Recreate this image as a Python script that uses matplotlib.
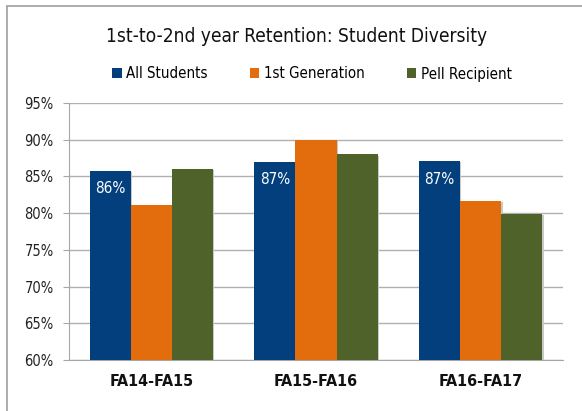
import matplotlib
matplotlib.use("Agg")
import matplotlib.pyplot as plt
import numpy as np
from matplotlib.patches import Rectangle
from matplotlib.ticker import FuncFormatter, MultipleLocator

categories = ["FA14-FA15", "FA15-FA16", "FA16-FA17"]
series_names = ["All Students", "1st Generation", "Pell Recipient"]
all_students = [85.75, 87.0, 87.1]
first_gen = [81.1, 90.0, 81.6]
pell = [86.0, 88.0, 79.9]
colors = ["#023f7c", "#e36c0d", "#4f6229"]
title = "1st-to-2nd year Retention: Student Diversity"

plt.rcParams["font.family"] = ["DejaVu Sans"]
plt.rcParams["font.stretch"] = "condensed"

W, H = 582, 411
fig = plt.figure(figsize=(W / 100, H / 100), dpi=100)
ax = fig.add_axes([69 / W, 1 - 360 / H, (563 - 69) / W, (360 - 103) / H])

x = np.arange(len(categories))
bw = 0.25
for i, (vals, c, name) in enumerate(zip([all_students, first_gen, pell], colors, series_names)):
    pos = x + (i - 1) * bw
    ax.bar(pos + 0.008, np.array(vals) - 60, bottom=60 - 0.15, width=bw, color="#c8c8c8",
           zorder=2, linewidth=0)
    ax.bar(pos, np.array(vals) - 60, bottom=60, width=bw, color=c, zorder=3,
           linewidth=0, label=name)
    if i == 0:
        for p, v in zip(pos, vals):
            ax.annotate(f"{v:.0f}%", xy=(p, v), xytext=(0, -13), textcoords="offset points",
                        ha="center", va="center", color="white", fontsize=11, zorder=4)

ax.set_ylim(60, 95)
ax.set_xlim(-0.5, 2.5)
ax.yaxis.set_major_locator(MultipleLocator(5))
ax.yaxis.set_major_formatter(FuncFormatter(lambda v, p: f"{v:.0f}%"))
ax.grid(axis="y", color="#b0b0b0", linewidth=1.0, zorder=0)
ax.set_axisbelow(True)
for s in ["top", "right"]:
    ax.spines[s].set_visible(False)
ax.spines["left"].set_color("#a6a6a6")
ax.spines["bottom"].set_color("#a6a6a6")
ax.tick_params(axis="y", length=4, color="#a6a6a6", labelsize=10.5, pad=7, labelcolor="#222222")
ax.tick_params(axis="x", length=0, labelsize=11.5, pad=10)
ax.set_xticks(x)
ax.set_xticklabels(categories, fontweight="bold", color="#111111")

fig.text(297 / W, 1 - 37 / H, title, ha="center", va="center", fontsize=13.7, color="#111111")

fig.legend(loc="center", bbox_to_anchor=(312 / W, 1 - 74 / H), ncol=3, frameon=False,
           fontsize=10.8, handlelength=0.63, handleheight=0.63, handletextpad=0.3,
           columnspacing=2.8)

fig.patches.append(Rectangle((7 / W, -0.1), 1.2, 1 - 6 / H + 0.1, transform=fig.transFigure,
                             fill=False, edgecolor="#a6a6a6", linewidth=1.3))

fig.savefig("out.png", dpi=100)
